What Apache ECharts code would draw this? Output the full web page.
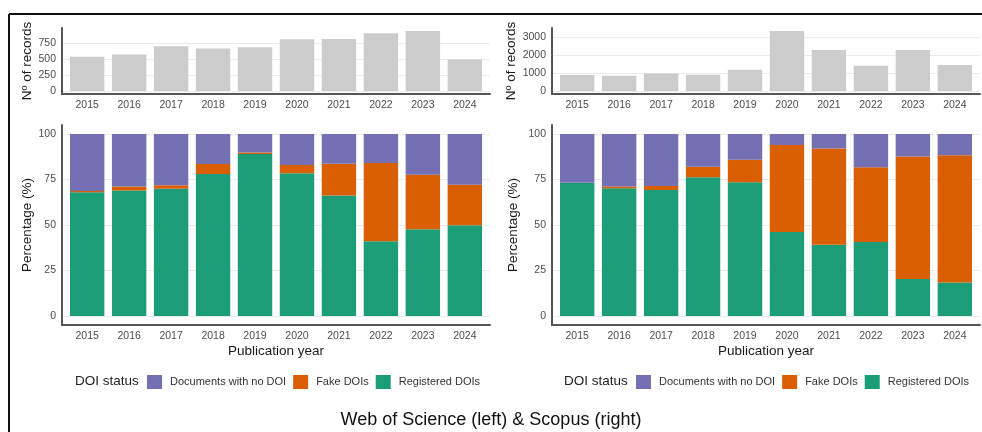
<!DOCTYPE html>
<html>
<head>
<meta charset="utf-8">
<script src="https://cdn.jsdelivr.net/npm/echarts@6/dist/echarts.min.js"></script>
<style>
html,body{margin:0;padding:0;background:#fff;}
#c{width:982px;height:432px;}
</style>
</head>
<body>
<div id="c"></div>
<script>
const years = ['2015','2016','2017','2018','2019','2020','2021','2022','2023','2024'];
const wosRecords = [533,570,699,663,683,807,812,900,936,492];
const scopusRecords = [894,855,989,911,1190,3369,2307,1413,2307,1453];
const wosRegistered = [68.0,69.0,69.9,78.1,89.0,78.5,66.2,41.0,47.6,49.8];
const wosFake = [0.7,2.2,2.0,5.5,0.9,4.5,17.5,43.1,30.1,22.4];
const wosNoDoi = [31.3,28.8,28.1,16.4,10.1,17.0,16.3,15.9,22.3,27.8];
const scopusRegistered = [73.2,70.2,69.3,76.2,73.5,46.1,39.2,40.7,20.3,18.4];
const scopusFake = [0.0,1.0,2.2,5.9,12.4,47.9,52.9,41.0,67.4,69.9];
const scopusNoDoi = [26.8,28.8,28.5,17.9,14.1,6.0,7.9,18.3,12.3,11.7];
const wosRecordTicks = [0,250,500,750];
const scopusRecordTicks = [0,1000,2000,3000];
const pctTicks = [0,25,50,75,100];
const statusNames = ['Documents with no DOI','Fake DOIs','Registered DOIs'];

const FONT = '"Liberation Sans", Arial, sans-serif';
const COLORS = {'Documents with no DOI':'#7570B3','Fake DOIs':'#D95F02','Registered DOIs':'#1B9E77'};
const idx = years.map((y,i)=>i);
// rows are [value, yearIndex]; encode maps yearIndex to x and value to y
const rows = arr => arr.map((v,i)=>[v,i]);
const ENC = {x:1, y:0};
const GRID_W = 428;
const BAR_W = GRID_W / (years.length + 1.2) * 0.9;

const grids = [
  {left:62, top:28, width:GRID_W, height:66},
  {left:552, top:28, width:GRID_W, height:66},
  {left:62, top:125, width:GRID_W, height:200},
  {left:552, top:125, width:GRID_W, height:200}
].map(g => Object.assign({outerBoundsMode:'none', containLabel:false}, g));

function xAxisCfg(gi, withName, margin) {
  return {
    type:'value', gridIndex:gi, min:-0.6, max:years.length-1+0.6,
    axisLine:{show:true, onZero:false, lineStyle:{color:'#555', width:2}},
    axisTick:{show:false, customValues:idx},
    axisLabel:{customValues:idx, formatter:v => years[Math.round(v)], color:'#4d4d4d', fontSize:10.5, fontFamily:FONT, margin:margin},
    splitLine:{show:false},
    name: withName ? 'Publication year' : '',
    nameLocation:'middle', nameGap:19,
    nameTextStyle:{color:'#1a1a1a', fontSize:13.5, fontFamily:FONT, verticalAlign:'top'}
  };
}
function yAxisCfg(gi, ticks, min, max, name, gap) {
  return {
    type:'value', gridIndex:gi, min:min, max:max,
    axisLine:{show:true, onZero:false, lineStyle:{color:'#555', width:2}},
    axisTick:{show:false, customValues:ticks},
    axisLabel:{customValues:ticks, formatter:v => String(Math.round(v)), color:'#4d4d4d', fontSize:10.5, fontFamily:FONT, margin:6},
    splitLine:{show:true, lineStyle:{color:'#ebebeb', width:1}},
    name:name, nameLocation:'middle', nameGap:gap,
    nameTextStyle:{color:'#1a1a1a', fontSize:13.5, fontFamily:FONT}
  };
}
const wosMax = Math.max(...wosRecords), scMax = Math.max(...scopusRecords);

const series = [
  {type:'bar', xAxisIndex:0, yAxisIndex:0, data:rows(wosRecords), encode:ENC, barWidth:BAR_W, itemStyle:{color:'#cccccc'}, silent:true},
  {type:'bar', xAxisIndex:1, yAxisIndex:1, data:rows(scopusRecords), encode:ENC, barWidth:BAR_W, itemStyle:{color:'#cccccc'}, silent:true}
];
function stackSeries(gi, reg, fake, none, stackId) {
  const src = {'Registered DOIs':reg, 'Fake DOIs':fake, 'Documents with no DOI':none};
  ['Registered DOIs','Fake DOIs','Documents with no DOI'].forEach(n => {
    series.push({type:'bar', name:n, xAxisIndex:gi, yAxisIndex:gi, stack:stackId, data:rows(src[n]), encode:ENC, barWidth:BAR_W, itemStyle:{color:COLORS[n]}});
  });
}
stackSeries(2, wosRegistered, wosFake, wosNoDoi, 'wos');
stackSeries(3, scopusRegistered, scopusFake, scopusNoDoi, 'scopus');

function legendCfg(left) {
  return {
    data:statusNames, left:left, top:375, orient:'horizontal',
    itemWidth:15, itemHeight:14, itemGap:7, padding:0, icon:'rect',
    selectedMode:false,
    textStyle:{color:'#333', fontSize:11, fontFamily:FONT, padding:[0,0,0,3]}
  };
}

const option = {
  animation:false,
  backgroundColor:'#fff',
  title:{text:'Web of Science (left) & Scopus (right)', left:'center', top:406,
    textStyle:{color:'#111', fontSize:18, fontWeight:'normal', fontFamily:FONT}},
  grid:grids,
  xAxis:[xAxisCfg(0,false,6), xAxisCfg(1,false,6), xAxisCfg(2,true,6), xAxisCfg(3,true,6)],
  yAxis:[
    yAxisCfg(0, wosRecordTicks, -0.05*wosMax, 1.05*wosMax, 'Nº of records', 25),
    yAxisCfg(1, scopusRecordTicks, -0.05*scMax, 1.05*scMax, 'Nº of records', 29),
    yAxisCfg(2, pctTicks, -5, 105, 'Percentage (%)', 25),
    yAxisCfg(3, pctTicks, -5, 105, 'Percentage (%)', 32)
  ],
  legend:[legendCfg(147), legendCfg(636)],
  graphic:[
    {type:'line', shape:{x1:9, y1:14, x2:982, y2:14}, style:{stroke:'#111', lineWidth:2}, silent:true},
    {type:'line', shape:{x1:9, y1:14, x2:9, y2:432}, style:{stroke:'#111', lineWidth:2}, silent:true},
    {type:'text', left:75, top:374, style:{text:'DOI status', fill:'#222', font:'13.5px "Liberation Sans", Arial, sans-serif'}, silent:true},
    {type:'text', left:564, top:374, style:{text:'DOI status', fill:'#222', font:'13.5px "Liberation Sans", Arial, sans-serif'}, silent:true}
  ],
  series:series
};
const chart = echarts.init(document.getElementById('c'), null, {renderer:'canvas'});
chart.setOption(option);
</script>
</body>
</html>
